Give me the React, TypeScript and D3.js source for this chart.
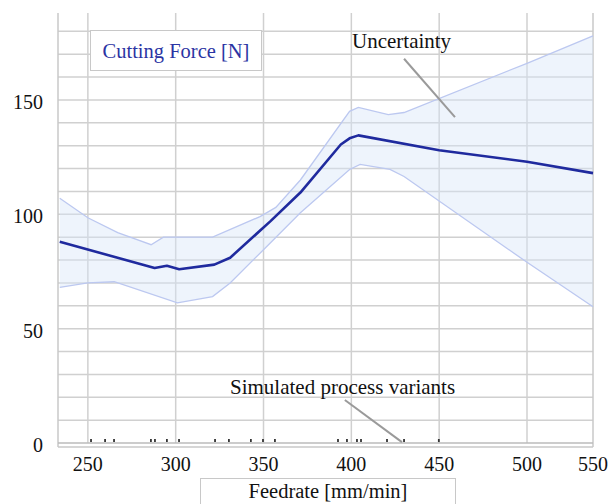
import React from 'react';
import * as d3 from 'd3';

// mean cutting force [feedrate, N]
const meanForce: [number, number][] = [
  [234, 88], [288, 76.5], [295, 77.5], [302, 76], [322, 78], [331, 81],
  [354, 97], [371, 109.5], [394, 130.5], [399, 133.2], [404, 134.5], [450, 128], [500, 123], [550, 118],
];
// upper bound of uncertainty band
const upperBand: [number, number][] = [
  [234, 107], [250, 98.5], [267, 92], [286, 86.7], [293, 90], [321, 90], [348, 99],
  [357, 103], [371, 115], [399, 145], [404, 146.7], [421, 143.6], [430, 144.5],
  [500, 166], [550, 178],
];
// lower bound of uncertainty band
const lowerBand: [number, number][] = [
  [234, 68], [250, 70], [265, 70.5], [301, 61.3], [321, 64], [331, 70], [350, 84.5],
  [371, 100.7], [399, 119.6], [405, 121.8], [422, 119.6], [430, 116.5], [500, 79], [550, 59.6],
];
// feedrates of the simulated process variants (rug)
const variants = [
  251.8, 259.8, 264.9, 285.9, 288.2, 295, 301.9, 322.4, 330.3, 342.8, 349.7, 356.5,
  392.4, 397.5, 403.2, 405.5, 420.3, 430, 449.8,
];
const xTicks = [250, 300, 350, 400, 450, 500, 550];
const yTicks = [0, 50, 100, 150];
const yGrid = d3.range(10, 190, 10);

const App = () => {
  const width = 612;
  const height = 504;
  const font = "'Liberation Serif', 'Times New Roman', serif";

  // the source picture is squeezed on its last section, so the x scale is piecewise
  const x = d3.scaleLinear().domain([233, 500, 550]).range([58, 527, 593]);
  const y = d3.scaleLinear().domain([0, 188]).range([443, 13]);

  // band polygon = upper + reversed lower
  const bandPts: [number, number][] = [
    ...upperBand.map(d => [x(d[0]), y(d[1])] as [number, number]),
    ...lowerBand.slice().reverse().map(d => [x(d[0]), y(d[1])] as [number, number]),
  ];
  const poly = d3.line().curve(d3.curveLinearClosed)(bandPts) || '';

  const line = d3.line<[number, number]>().x(d => x(d[0])).y(d => y(d[1]));

  const gridColor = '#d0d0d0';

  return (
    <svg width={width} height={height} style={{ position: 'absolute', left: 0, top: 0 }}>
      <rect x={0} y={0} width={width} height={height} fill='#fff' />
      {/* grid */}
      {yGrid.map(v =>
        <line key={`hg-${v}`} x1={x(233)} x2={x(550)} y1={y(v)} y2={y(v)} stroke={gridColor} strokeWidth={1.5} />
      )}
      {xTicks.slice(0, -1).map(v =>
        <line key={`vg-${v}`} x1={x(v)} x2={x(v)} y1={13} y2={y(0)} stroke={gridColor} strokeWidth={1.5} />
      )}
      {/* frame */}
      <line x1={x(233)} x2={x(233)} y1={13} y2={447} stroke='#c8c8c8' strokeWidth={1.5} />
      <line x1={x(550)} x2={x(550)} y1={13} y2={447} stroke='#c8c8c8' strokeWidth={1.5} />
      <line x1={x(233)} x2={x(550)} y1={447} y2={447} stroke='#c8c8c8' strokeWidth={1.5} />
      <line x1={x(233)} x2={x(550)} y1={y(0)} y2={y(0)} stroke='#bbbbbb' strokeWidth={1.5} />

      {/* uncertainty band */}
      <path d={poly} fill='#d6e4f7' fillOpacity={0.42} stroke='none' />
      <path d={line(upperBand) || ''} fill='none' stroke='#bcc8f0' strokeWidth={1.3} />
      <path d={line(lowerBand) || ''} fill='none' stroke='#bcc8f0' strokeWidth={1.3} />
      {/* mean */}
      <path d={line(meanForce) || ''} fill='none' stroke='#1f2a9e' strokeWidth={2.6} strokeLinejoin='round' />

      {/* rug */}
      {variants.map((v, i) =>
        <line key={`rug-${i}`} x1={x(v)} x2={x(v)} y1={y(0) - 4} y2={y(0) - 1} stroke='#333' strokeWidth={1.8} />
      )}

      {/* y labels */}
      {yTicks.map(v =>
        <text key={`yl-${v}`} x={43} y={y(v) + 2} dy='0.35em' textAnchor='end' fontFamily={font} fontSize={20} fill='#111'>{v}</text>
      )}
      {/* x labels */}
      {xTicks.map(v =>
        <text key={`xl-${v}`} x={x(v)} y={471} textAnchor='middle' fontFamily={font} fontSize={20} fill='#111'>{v}</text>
      )}

      {/* title box */}
      <rect x={90.5} y={30.5} width={171} height={40} fill='#fff' stroke='#c8c8c8' />
      <text x={176} y={58} textAnchor='middle' fontFamily={font} fontSize={20.5} fill='#2b34a3'>Cutting Force [N]</text>

      {/* annotations */}
      <text x={352} y={48} fontFamily={font} fontSize={21} fill='#111'>Uncertainty</text>
      <line x1={x(430)} y1={y(168)} x2={x(459)} y2={y(142.5)} stroke='#9a9a9a' strokeWidth={2} />
      <text x={230} y={394} fontFamily={font} fontSize={21} fill='#111'>Simulated process variants</text>
      <line x1={x(396.3)} y1={y(18.8)} x2={x(428.8)} y2={y(0.4)} stroke='#9a9a9a' strokeWidth={2} />

      {/* x axis title box */}
      <rect x={200.5} y={478.5} width={255} height={40} fill='#fff' stroke='#c8c8c8' />
      <text x={328} y={498} textAnchor='middle' fontFamily={font} fontSize={20.5} fill='#111'>Feedrate [mm/min]</text>
    </svg>
  );
};

export default App;
